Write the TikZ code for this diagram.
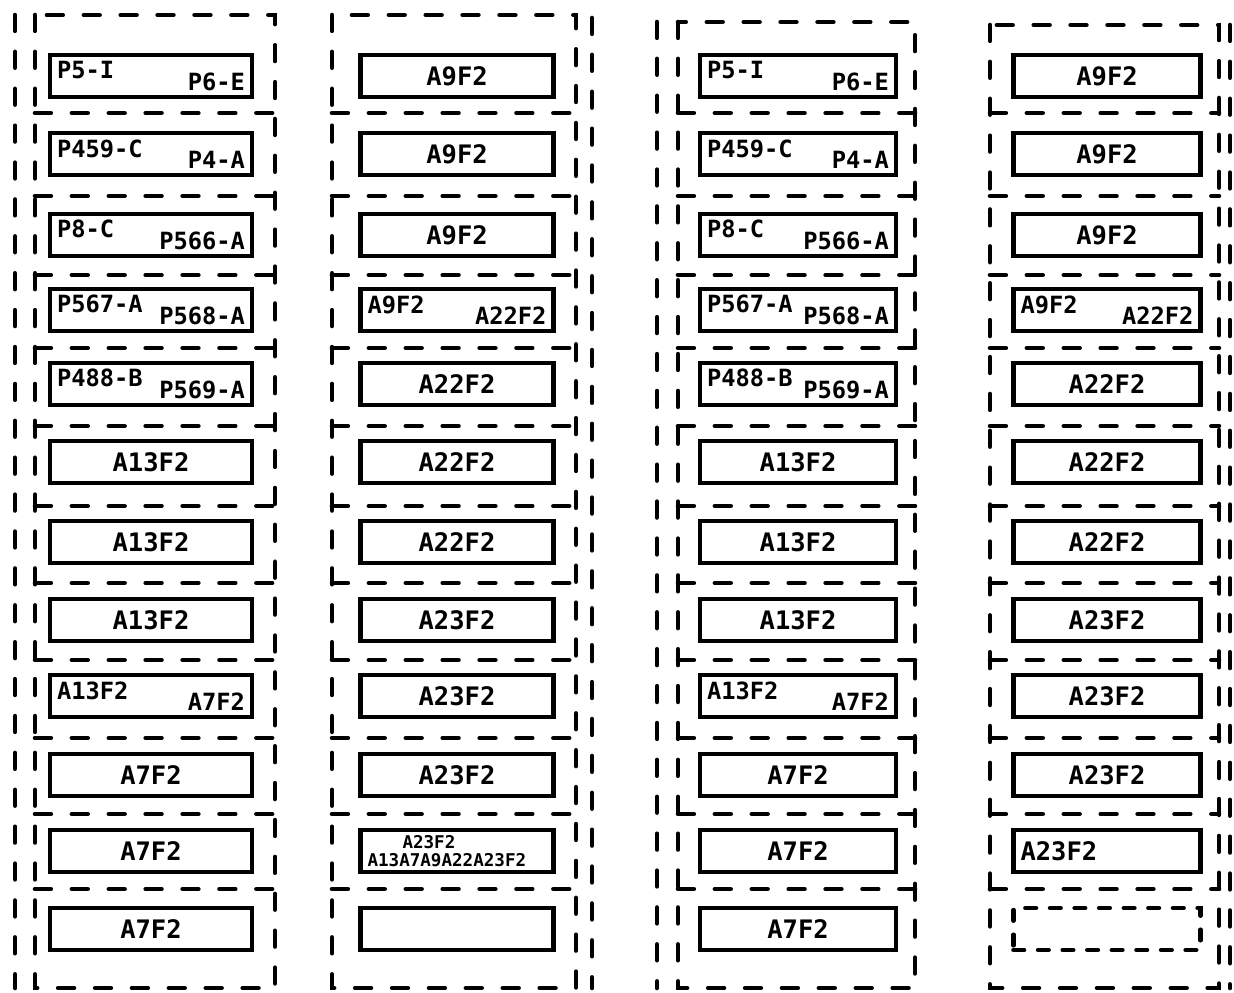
\documentclass[tikz,border=0pt]{standalone}
\usepackage{fontspec}
\usepackage{tikz}
\newfontfamily\cellfont{DejaVu Sans Mono Bold}
\newcommand{\pairlbl}[2]{\fontsize{13.5}{15}\selectfont\raisebox{3pt}{#1}\hfill\raisebox{-3.5pt}{#2}\hspace*{2pt}}

\begin{document}
\begin{tikzpicture}[
    x=0.02cm, y=-0.02cm,
    cell/.style={rectangle, draw=black, line width=2.6pt, minimum height=0.84cm, inner xsep=4pt, inner ysep=2pt, text width=#1, align=center, font=\cellfont\fontsize{14.5}{16}\selectfont},
    cellA/.style={cell=3.76cm},
    cellB/.style={cell=3.58cm},
    cellC/.style={cell=3.64cm},
    cellD/.style={cell=3.46cm},
    grp/.style={line width=2.6pt, line cap=round, dash pattern=on 9pt off 12pt},
    blank/.style={line cap=round, dash pattern=on 6pt off 8pt}
]
\useasboundingbox (0,0) rectangle (1234,992);

% Column 1
\node (a1) [cellA] at (151,76) {\pairlbl{P5-I}{P6-E}};
\node (a2) [cellA] at (151,154) {\pairlbl{P459-C}{P4-A}};
\node (a3) [cellA] at (151,235) {\pairlbl{P8-C}{P566-A}};
\node (a4) [cellA] at (151,310) {\pairlbl{P567-A}{P568-A}};
\node (a5) [cellA] at (151,384) {\pairlbl{P488-B}{P569-A}};
\node (a6) [cellA] at (151,462) {A13F2};
\node (a7) [cellA] at (151,542) {A13F2};
\node (a8) [cellA] at (151,620) {A13F2};
\node (a9) [cellA] at (151,696) {\pairlbl{A13F2}{A7F2}};
\node (a10) [cellA] at (151,775) {A7F2};
\node (a11) [cellA] at (151,851) {A7F2};
\node (a12) [cellA] at (151,929) {A7F2};

% Column 2
\node (b1) [cellB] at (457,76) {A9F2};
\node (b2) [cellB] at (457,154) {A9F2};
\node (b3) [cellB] at (457,235) {A9F2};
\node (b4) [cellB] at (457,310) {\pairlbl{A9F2}{A22F2}};
\node (b5) [cellB] at (457,384) {A22F2};
\node (b6) [cellB] at (457,462) {A22F2};
\node (b7) [cellB] at (457,542) {A22F2};
\node (b8) [cellB] at (457,620) {A23F2};
\node (b9) [cellB] at (457,696) {A23F2};
\node (b10) [cellB] at (457,775) {A23F2};
\node (b11) [cellB, align=left, font=\cellfont\fontsize{10}{10}\selectfont] at (457,851) {\hspace*{0.7cm}A23F2\\A13A7A9A22A23F2};
\node (b12) [cellB] at (457,929) {};

% Column 3
\node (c1) [cellC] at (798,76) {\pairlbl{P5-I}{P6-E}};
\node (c2) [cellC] at (798,154) {\pairlbl{P459-C}{P4-A}};
\node (c3) [cellC] at (798,235) {\pairlbl{P8-C}{P566-A}};
\node (c4) [cellC] at (798,310) {\pairlbl{P567-A}{P568-A}};
\node (c5) [cellC] at (798,384) {\pairlbl{P488-B}{P569-A}};
\node (c6) [cellC] at (798,462) {A13F2};
\node (c7) [cellC] at (798,542) {A13F2};
\node (c8) [cellC] at (798,620) {A13F2};
\node (c9) [cellC] at (798,696) {\pairlbl{A13F2}{A7F2}};
\node (c10) [cellC] at (798,775) {A7F2};
\node (c11) [cellC] at (798,851) {A7F2};
\node (c12) [cellC] at (798,929) {A7F2};

% Column 4
\node (d1) [cellD] at (1107,76) {A9F2};
\node (d2) [cellD] at (1107,154) {A9F2};
\node (d3) [cellD] at (1107,235) {A9F2};
\node (d4) [cellD] at (1107,310) {\pairlbl{A9F2}{A22F2}};
\node (d5) [cellD] at (1107,384) {A22F2};
\node (d6) [cellD] at (1107,462) {A22F2};
\node (d7) [cellD] at (1107,542) {A22F2};
\node (d8) [cellD] at (1107,620) {A23F2};
\node (d9) [cellD] at (1107,696) {A23F2};
\node (d10) [cellD] at (1107,775) {A23F2};
\node (d11) [cellD, align=left] at (1107,851) {A23F2};
\node (d12) [cellD, blank] at (1107,929) {};

% Dashed groups
\draw [grp] (35,15) rectangle (275,988);
\draw [grp] (15,15) -- (15,988);
\draw [grp] (332,15) rectangle (576,988);
\draw [grp] (592,18) -- (592,988);
\draw [grp] (678,22) rectangle (915,988);
\draw [grp] (657,22) -- (657,988);
\draw [grp] (990,25) rectangle (1219,988);
\draw [grp] (1230,25) -- (1230,988);
\foreach \y in {113,196,275,348,426,506,583,660,738,814,889} {
    \draw [grp] (35,\y) -- (275,\y);
    \draw [grp] (332,\y) -- (576,\y);
    \draw [grp] (678,\y) -- (915,\y);
    \draw [grp] (990,\y) -- (1219,\y);
}

\end{tikzpicture}
\end{document}
